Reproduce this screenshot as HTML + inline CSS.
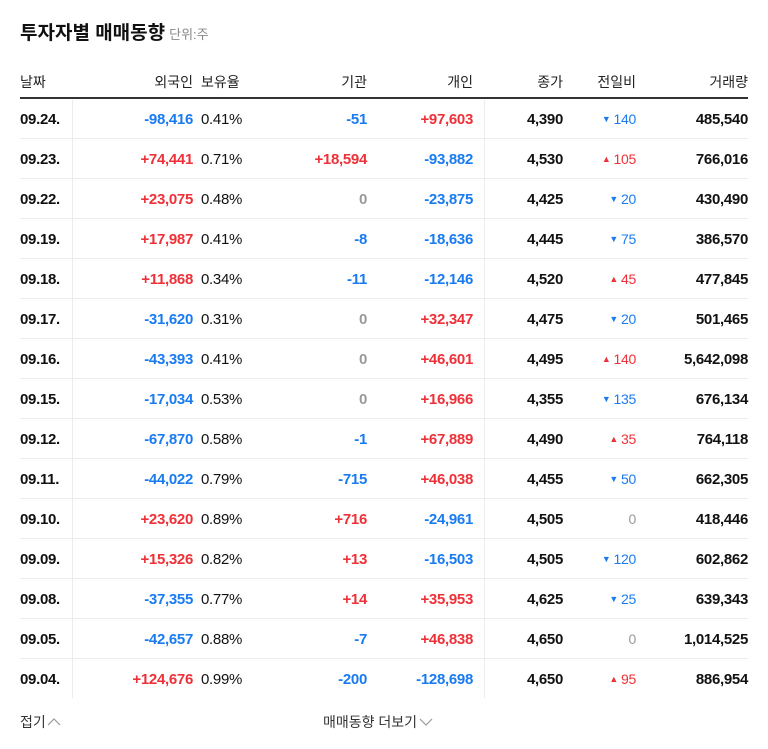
<!DOCTYPE html>
<html><head><meta charset="utf-8">
<style>
body{margin:0;width:768px;height:749px;background:#fff;font-family:"Liberation Sans","Noto Sans CJK KR",sans-serif;position:relative;overflow:hidden;color:#222}
.a{position:absolute;white-space:nowrap}
.t{left:20px;top:18px;font-size:19px;font-weight:bold;color:#111}
.u{font-size:13px;color:#888;font-weight:normal;margin-left:4px}
.h{top:72px;font-size:14px;color:#222}
.c{font-size:15px;font-weight:bold;letter-spacing:-0.3px}
.n{font-weight:normal}
.tri{font-size:9px;vertical-align:2px;margin-right:3px}
.blue{color:#1a7bf0}.red{color:#ee3138}.gray{color:#999}.blk{color:#111}
.line{position:absolute;left:20px;width:728px;height:1px;background:#ececec}
.v{position:absolute;width:1px;top:100px;height:598px;background:#ececec}
</style></head><body>
<div class="a t">투자자별 매매동향<span class="u">단위:주</span></div>
<div class="a h" style="left:20px">날짜</div>
<div class="a h" style="right:575px">외국인</div>
<div class="a h" style="left:201px">보유율</div>
<div class="a h" style="right:401px">기관</div>
<div class="a h" style="right:295px">개인</div>
<div class="a h" style="right:205px">종가</div>
<div class="a h" style="right:132px">전일비</div>
<div class="a h" style="right:20px">거래량</div>
<div class="a" style="left:20px;top:97px;width:728px;height:2px;background:#333"></div>
<div class="v" style="left:72px"></div>
<div class="v" style="left:484px"></div>
<div id="rows"></div>
<div class="a" style="left:20px;top:712px;font-size:14px;color:#333">접기<svg width="14" height="10" style="margin-left:1px" viewBox="0 0 14 10"><polyline points="1,8 7,2 13,8" fill="none" stroke="#999" stroke-width="1.2"/></svg></div>
<div class="a" style="left:323px;top:712px;font-size:14px;color:#333">매매동향 더보기<svg width="14" height="10" style="margin-left:2px" viewBox="0 0 14 10"><polyline points="1,2 7,8 13,2" fill="none" stroke="#999" stroke-width="1.2"/></svg></div>
<script>
const dates=["09.24.","09.23.","09.22.","09.19.","09.18.","09.17.","09.16.","09.15.","09.12.","09.11.","09.10.","09.09.","09.08.","09.05.","09.04."];
const foreign=[-98416,74441,23075,17987,11868,-31620,-43393,-17034,-67870,-44022,23620,15326,-37355,-42657,124676];
const holding=["0.41%","0.71%","0.48%","0.41%","0.34%","0.31%","0.41%","0.53%","0.58%","0.79%","0.89%","0.82%","0.77%","0.88%","0.99%"];
const inst=[-51,18594,0,-8,-11,0,0,0,-1,-715,716,13,14,-7,-200];
const indiv=[97603,-93882,-23875,-18636,-12146,32347,46601,16966,67889,46038,-24961,-16503,35953,46838,-128698];
const closes=[4390,4530,4425,4445,4520,4475,4495,4355,4490,4455,4505,4505,4625,4650,4650];
const change=[-140,105,-20,-75,45,-20,140,-135,35,-50,0,-120,-25,0,95];
const volume=[485540,766016,430490,386570,477845,501465,5642098,676134,764118,662305,418446,602862,639343,1014525,886954];
const fmt=v=>Math.abs(v).toLocaleString('en-US');
const sgn=v=>v>0?'+'+fmt(v):v<0?'-'+fmt(v):'0';
const cls=v=>v>0?'red':v<0?'blue':'gray';
const root=document.getElementById('rows');
function cell(html,c,pos,top,name){const d=document.createElement('div');d.className='a c '+c;d.style.top=top+'px';
if(pos[0]==='l')d.style.left=pos[1]+'px';else{d.style.right=pos[1]+'px';d.style.textAlign='right';}
d.innerHTML=html;


root.appendChild(d);return d;}
dates.forEach((dt,i)=>{
 const top=111+i*40;
 cell(dt,'blk',['l',20],top,'date-cell');
 cell(sgn(foreign[i]),cls(foreign[i]),['r',575],top,'foreign-cell');
 cell(holding[i],'n blk',['l',201],top,'holding-cell');
 cell(sgn(inst[i]),cls(inst[i]),['r',401],top,'institution-cell');
 cell(sgn(indiv[i]),cls(indiv[i]),['r',295],top,'individual-cell');
 cell(closes[i].toLocaleString('en-US'),'blk',['r',205],top,'close-cell');
 const ch=change[i];
 const tri=ch>0?'<span class="tri">▲</span>':ch<0?'<span class="tri">▼</span>':'';
 const d=cell(tri+fmt(ch),'n '+cls(ch),['r',132],top,'change-cell');
 d.style.fontSize='14px';
 cell(volume[i].toLocaleString('en-US'),'blk',['r',20],top,'volume-cell');
 if(i<dates.length-1){const l=document.createElement('div');l.className='line';l.style.top=(138+i*40)+'px';
 
 
 root.appendChild(l);}
});
</script>
</body></html>
